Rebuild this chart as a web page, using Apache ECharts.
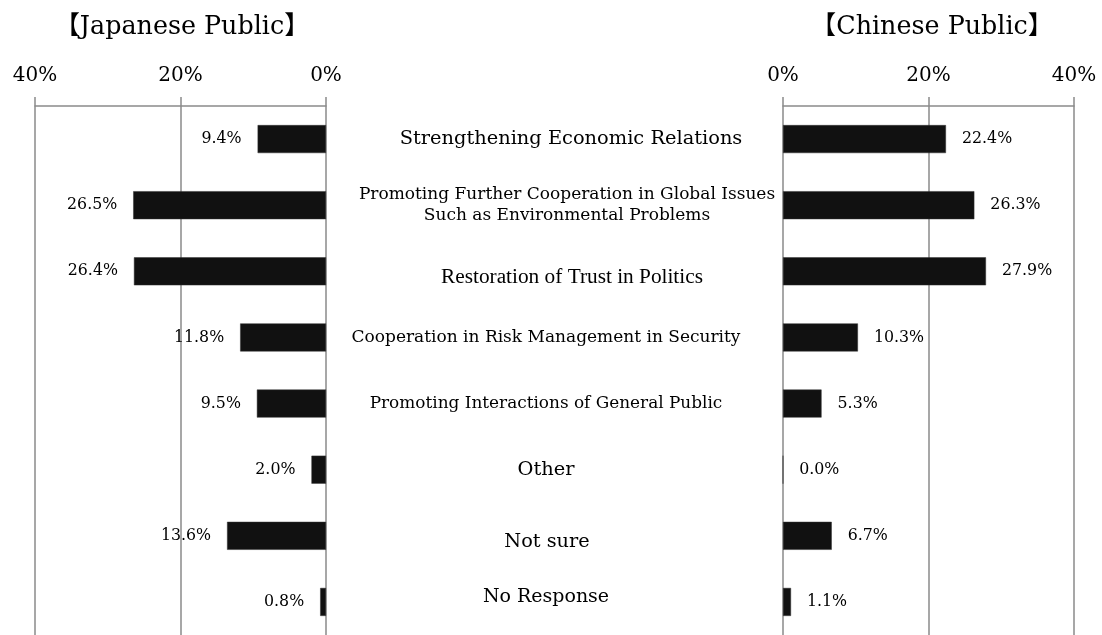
<!DOCTYPE html>
<html>
<head>
<meta charset="utf-8">
<script src="https://cdn.jsdelivr.net/npm/echarts@6/dist/echarts.min.js"></script>
<style>html,body{margin:0;padding:0;background:#fff;}#c{width:1102px;height:635px;}</style>
</head>
<body>
<div id="c"></div>
<script>
const categories = [
  "Strengthening Economic Relations",
  "Promoting Further Cooperation in Global Issues\nSuch as Environmental Problems",
  "Restoration of Trust in Politics",
  "Cooperation in Risk Management in Security",
  "Promoting Interactions of General Public",
  "Other",
  "Not sure",
  "No Response"
];
const japaneseValues = [9.4, 26.5, 26.4, 11.8, 9.5, 2.0, 13.6, 0.8];
const chineseValues = [22.4, 26.3, 27.9, 10.3, 5.3, 0.0, 6.7, 1.1];
const axisTicks = [0, 20, 40];
const titles = ["【Japanese Public】", "【Chinese Public】"];

const SERIF = "'DejaVu Serif', 'Noto Sans CJK JP', serif";
const GRAY = "#8a8a8a";

// per-category label styles (font sizes / small offsets)
const labelStyles = [
  {fontSize: 19.4, fontFamily: SERIF, padding: [0, 0, 0, 50]},
  {fontSize: 17, fontFamily: SERIF, lineHeight: 21.5, padding: [0, 0, 0, 42]},
  {fontSize: 21.3, fontFamily: "'Liberation Serif', serif", padding: [12, 0, 0, 52]},
  {fontSize: 17, fontFamily: SERIF, padding: [0, 0, 0, 0]},
  {fontSize: 16.9, fontFamily: SERIF, padding: [0, 0, 0, 0]},
  {fontSize: 19.4, fontFamily: SERIF, padding: [0, 0, 0, 0]},
  {fontSize: 19.3, fontFamily: SERIF, padding: [12, 0, 0, 2]},
  {fontSize: 19, fontFamily: SERIF, padding: [0, 0, 9, 0]}
];
const rich = {};
labelStyles.forEach((s, i) => { rich['c' + i] = Object.assign({color: '#000', align: 'center'}, s); });

function xAxisCfg(gridIndex, inverse) {
  return {
    type: 'value', gridIndex, position: 'top', inverse,
    min: axisTicks[0], max: axisTicks[axisTicks.length - 1], interval: axisTicks[1] - axisTicks[0],
    axisLine: {show: true, lineStyle: {color: GRAY, width: 1.5}},
    axisTick: {show: true, length: 9, lineStyle: {color: GRAY, width: 1.5}},
    splitLine: {show: true, lineStyle: {color: GRAY, width: 1.5}},
    axisLabel: {formatter: '{value}%', fontFamily: SERIF, fontSize: 20, color: '#000', margin: 20}
  };
}

const barLabel = (pos) => ({
  show: true, position: pos, distance: 16,
  formatter: p => p.value.toFixed(1) + '%',
  fontFamily: SERIF, fontSize: 15.8, color: '#000'
});

const option = {
  animation: false,
  backgroundColor: '#fff',
  title: [
    {text: titles[0], left: 177, top: 10, textAlign: 'center',
     textStyle: {fontFamily: SERIF, fontSize: 25.4, fontWeight: 'normal', color: '#000'}},
    {text: titles[1], left: 927, top: 10, textAlign: 'center',
     textStyle: {fontFamily: SERIF, fontSize: 25.4, fontWeight: 'normal', color: '#000'}}
  ],
  grid: [
    {left: 35, width: 291, top: 106, bottom: -4},
    {left: 783, width: 291, top: 106, bottom: -4}
  ],
  xAxis: [xAxisCfg(0, true), xAxisCfg(1, false)],
  yAxis: [
    {type: 'category', gridIndex: 0, data: categories, inverse: true, position: 'right',
     axisLine: {show: false}, axisTick: {show: false}, axisLabel: {show: false}},
    {type: 'category', gridIndex: 1, data: categories, inverse: true, position: 'left',
     axisLine: {show: false}, axisTick: {show: false},
     axisLabel: {show: true, margin: 237, align: 'center', verticalAlign: 'middle',
       formatter: (v, i) => '{c' + i + '|' + v.split('\n').join('}\n{c' + i + '|') + '}',
       rich: rich}}
  ],
  series: [
    {type: 'bar', xAxisIndex: 0, yAxisIndex: 0, data: japaneseValues, barWidth: 28,
     itemStyle: {color: '#111', borderColor: '#333', borderWidth: 0.5}, label: barLabel('left')},
    {type: 'bar', xAxisIndex: 1, yAxisIndex: 1, data: chineseValues, barWidth: 28,
     itemStyle: {color: '#111', borderColor: '#333', borderWidth: 0.5}, label: barLabel('right')}
  ]
};
echarts.init(document.getElementById('c')).setOption(option);
</script>
</body>
</html>
